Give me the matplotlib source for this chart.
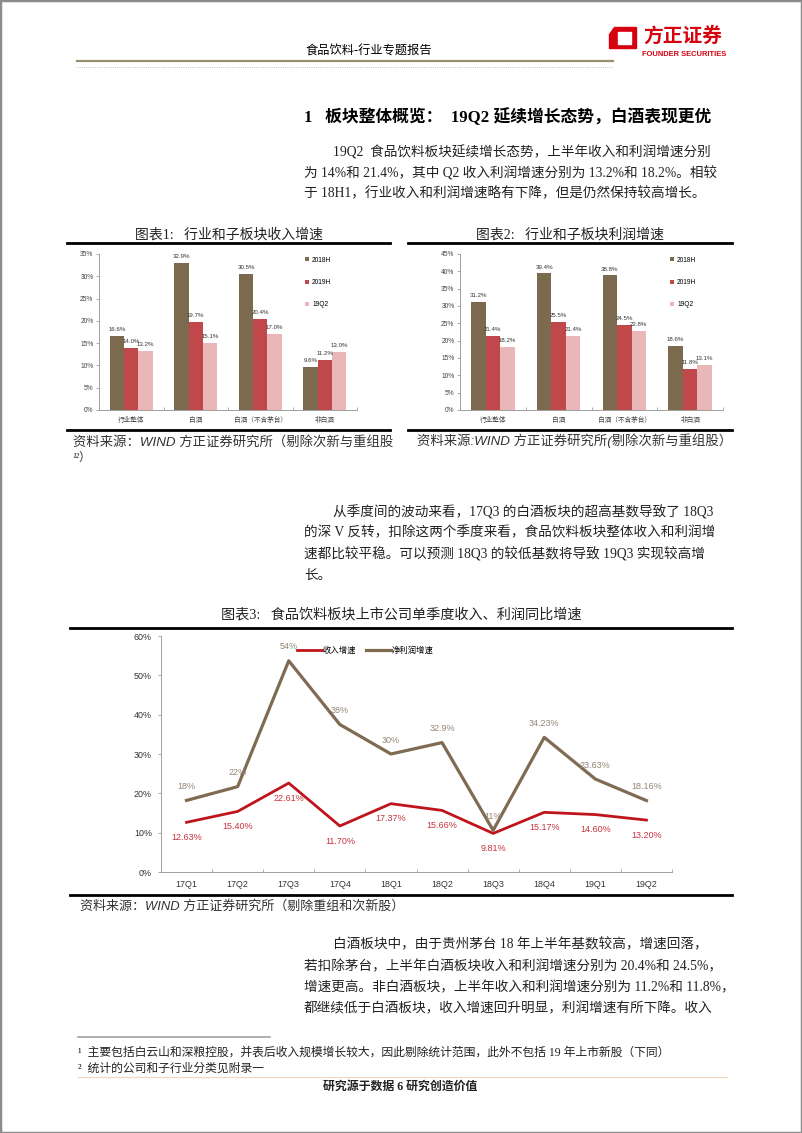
import matplotlib
matplotlib.use('Agg')
import matplotlib.pyplot as plt
from matplotlib import font_manager
from matplotlib.patches import Rectangle, Polygon
from matplotlib.lines import Line2D
import numpy as np

# 页面尺寸 (像素)
W, H = 802, 1133

# 图表1、图表2 数据
groups = ['行业整体', '白酒', '白酒（不含茅台）', '非白酒']
series = ['2018H', '2019H', '19Q2']
rev_2018h = [16.6, 32.9, 30.5, 9.6]
rev_2019h = [14.0, 19.7, 20.4, 11.2]
rev_19q2 = [13.2, 15.1, 17.0, 13.0]
prof_2018h = [31.2, 39.4, 38.8, 18.6]
prof_2019h = [21.4, 25.5, 24.5, 11.8]
prof_19q2 = [18.2, 21.4, 22.8, 13.1]

# 图表3 数据
quarters = ['17Q1', '17Q2', '17Q3', '17Q4', '18Q1', '18Q2', '18Q3', '18Q4', '19Q1', '19Q2']
rev_growth = [12.63, 15.40, 22.61, 11.70, 17.37, 15.66, 9.81, 15.17, 14.60, 13.20]
profit_growth = [18.2, 21.7, 53.7, 37.5, 30.0, 32.9, 10.6, 34.23, 23.63, 18.16]
profit_labels = ['18%', '22%', '54%', '38%', '30%', '32.9%', '11%', '34.23%', '23.63%', '18.16%']

# 字体
names = {f.name for f in font_manager.fontManager.ttflist}
NARROW = 'Liberation Sans Narrow' if 'Liberation Sans Narrow' in names else 'Liberation Sans'
CJK = 'Noto Sans CJK SC'
BODY = ['Liberation Serif', CJK]
CHART = [NARROW, CJK]
plt.rcParams['font.family'] = ['Liberation Sans', CJK]

BAR_COLORS = ['#7B6A4E', '#C0474A', '#E9B7B7']
AXIS_GRAY = '#A0A0A0'

fig = plt.figure(figsize=(W / 100, H / 100), dpi=100)


def fx(x):
    return x / W


def fy(y):
    return 1 - y / H


def hline(x0, x1, y, lw, color, ls='-'):
    fig.add_artist(Line2D([fx(x0), fx(x1)], [fy(y), fy(y)], transform=fig.transFigure,
                          lw=lw, color=color, ls=ls))


def txt(x, y, s, size, family=BODY, **kw):
    kw.setdefault('va', 'center')
    fig.text(fx(x), fy(y), s, fontsize=size, family=family, **kw)


def ax_at(x0, y0, x1, y1):
    # 像素坐标 -> axes
    return fig.add_axes([fx(x0), fy(y1), fx(x1) - fx(x0), fy(y0) - fy(y1)])


# 页面边框
fig.add_artist(Rectangle((0, 0), 1, 1, transform=fig.transFigure, fill=False,
                         edgecolor='#8C8C8C', lw=2.5))

# 页眉
txt(369, 52, '食品饮料-行业专题报告', 8.8, ha='center')
hline(77, 613, 61, 1.6, '#9A8F6E')
hline(77, 613, 67, 0.6, '#B0B0B0', ls=':')
fig.add_artist(Polygon([[fx(614), fy(27)], [fx(636), fy(27)], [fx(636), fy(48)],
                        [fx(609), fy(48)], [fx(609), fy(34)]],
                       closed=True, transform=fig.transFigure, color='#D7000F'))
fig.add_artist(Rectangle((fx(618), fy(44)), fx(13), 12 / H, transform=fig.transFigure,
                         color='white'))
txt(683, 36, '方正证券', 14.2, family=[CJK], ha='center', color='#D7000F', weight='bold')
txt(684, 54, 'FOUNDER SECURITIES', 5.4, family=['Liberation Sans'], ha='center',
    color='#D7000F', weight='bold')

# 标题与正文
txt(304, 117, '1   板块整体概览：  19Q2 延续增长态势，白酒表现更优', 12.1, weight='bold')
para1 = [(333, 152, '19Q2  食品饮料板块延续增长态势，上半年收入和利润增速分别'),
         (304, 173, '为 14%和 21.4%，其中 Q2 收入利润增速分别为 13.2%和 18.2%。相较'),
         (304, 194, '于 18H1，行业收入和利润增速略有下降，但是仍然保持较高增长。')]
para2 = [(333, 512, '从季度间的波动来看，17Q3 的白酒板块的超高基数导致了 18Q3'),
         (304, 533, '的深 V 反转，扣除这两个季度来看，食品饮料板块整体收入和利润增'),
         (304, 554, '速都比较平稳。可以预测 18Q3 的较低基数将导致 19Q3 实现较高增'),
         (304, 575, '长。')]
para3 = [(333, 945, '白酒板块中，由于贵州茅台 18 年上半年基数较高，增速回落，'),
         (304, 967, '若扣除茅台，上半年白酒板块收入和利润增速分别为 20.4%和 24.5%，'),
         (304, 988, '增速更高。非白酒板块，上半年收入和利润增速分别为 11.2%和 11.8%，'),
         (304, 1009, '都继续低于白酒板块，收入增速回升明显，利润增速有所下降。收入')]
for x, y, s in para1 + para2 + para3:
    txt(x, y, s, 9.8, color='#222222')


def bar_chart(ax, s1, s2, s3, ymax, step):
    x = np.arange(len(groups))
    w = 0.22
    for i, vals in enumerate([s1, s2, s3]):
        pos = x + (i - 1) * w
        ax.bar(pos, vals, w, color=BAR_COLORS[i], label=series[i])
        for xi, v in zip(pos, vals):
            ax.text(xi, v + ymax * 0.025, f'{v:.1f}%', ha='center', va='bottom',
                    fontsize=4.4, family=CHART, color='#333333')
    ax.set_xlim(-0.5, 3.5)
    ax.set_ylim(0, ymax)
    ticks = np.arange(0, ymax + 0.1, step)
    ax.set_yticks(ticks)
    ax.set_yticklabels([f'{int(t)}%' for t in ticks], fontsize=4.8, family=CHART)
    ax.set_xticks(x)
    ax.set_xticklabels(groups, fontsize=4.8, family=CHART)
    ax.set_xticks(np.arange(-0.5, 3.6, 1), minor=True)
    ax.tick_params(axis='x', which='major', length=0, pad=5, colors='#444444')
    ax.tick_params(axis='x', which='minor', length=2, direction='in', color=AXIS_GRAY)
    ax.tick_params(axis='y', length=2, width=0.6, color=AXIS_GRAY, pad=2, colors='#444444')
    for sp in ['top', 'right']:
        ax.spines[sp].set_visible(False)
    for sp in ['left', 'bottom']:
        ax.spines[sp].set_color(AXIS_GRAY)
        ax.spines[sp].set_linewidth(0.7)
    leg = ax.legend(loc='upper left', bbox_to_anchor=(0.79, 1.0), frameon=False,
                    fontsize=4.8, handlelength=0.6, handleheight=0.6, handletextpad=0.4,
                    labelspacing=2.3, borderaxespad=0)
    for t in leg.get_texts():
        t.set_family(CHART)


# 图表1
txt(229, 235, '图表1:   行业和子板块收入增速', 10, ha='center', color='#222222')
hline(67, 390, 243, 2.0, 'black')
ax1 = ax_at(99, 254, 357, 410)
bar_chart(ax1, rev_2018h, rev_2019h, rev_19q2, 35, 5)
hline(67, 390, 430, 2.0, 'black')
txt(73, 442, '资料来源：WIND 方正证券研究所（剔除次新与重组股', 9.6,
    family=['Liberation Sans', CJK], style='italic', color='#333333')
txt(73, 458, '¹²）', 8.5, family=['Liberation Serif', CJK], style='italic', color='#333333')

# 图表2
txt(570, 235, '图表2:   行业和子板块利润增速', 10, ha='center', color='#222222')
hline(408, 732, 243, 2.0, 'black')
ax2 = ax_at(460, 254, 723, 410)
bar_chart(ax2, prof_2018h, prof_2019h, prof_19q2, 45, 5)
hline(408, 732, 430, 2.0, 'black')
txt(417, 441, '资料来源:WIND 方正证券研究所(剔除次新与重组股）', 9.6,
    family=['Liberation Sans', CJK], style='italic', color='#333333')

# 图表3
txt(401, 615, '图表3:   食品饮料板块上市公司单季度收入、利润同比增速', 10.2, ha='center',
    color='#222222')
hline(70, 732, 628, 2.0, 'black')
ax3 = ax_at(161, 636, 672, 872)
x = np.arange(len(quarters))
ax3.plot(x, rev_growth, color='#C0141C', lw=2.0, label='收入增速')
ax3.plot(x, profit_growth, color='#7F6B52', lw=2.3, label='净利润增速')
for xi, v in zip(x, rev_growth):
    ax3.annotate(f'{v:.2f}%', (xi, v), xytext=(0, -11), textcoords='offset points',
                 ha='center', va='center', fontsize=6.5, family=CHART, color='#C8323C')
for xi, v, s in zip(x, profit_growth, profit_labels):
    ax3.annotate(s, (xi, v), xytext=(0, 10), textcoords='offset points',
                 ha='center', va='center', fontsize=6.5, family=CHART, color='#918574')
ax3.set_xlim(-0.5, 9.5)
ax3.set_ylim(0, 60)
yt = np.arange(0, 61, 10)
ax3.set_yticks(yt)
ax3.set_yticklabels([f'{int(t)}%' for t in yt], fontsize=6.4, family=CHART)
ax3.set_xticks(x)
ax3.set_xticklabels(quarters, fontsize=6.4, family=CHART)
ax3.set_xticks(np.arange(-0.5, 9.6, 1), minor=True)
ax3.tick_params(axis='x', which='major', length=0, pad=6, colors='#333333')
ax3.tick_params(axis='x', which='minor', length=2.5, direction='in', color=AXIS_GRAY)
ax3.tick_params(axis='y', length=2.5, width=0.6, color=AXIS_GRAY, pad=4, colors='#333333')
for sp in ['top', 'right']:
    ax3.spines[sp].set_visible(False)
for sp in ['left', 'bottom']:
    ax3.spines[sp].set_color(AXIS_GRAY)
    ax3.spines[sp].set_linewidth(0.7)
leg3 = ax3.legend(loc='center', bbox_to_anchor=(0.40, 0.94), ncol=2, frameon=False,
                  fontsize=6.0, handlelength=3.0, handletextpad=0.1, columnspacing=1.2)
for t in leg3.get_texts():
    t.set_family(CHART)
hline(70, 732, 895, 2.0, 'black')
txt(80, 906, '资料来源：WIND 方正证券研究所（剔除重组和次新股）', 9.4,
    family=['Liberation Sans', CJK], style='italic', color='#333333')

# 脚注
hline(78, 270, 1037, 1.2, '#A0A0A0')
txt(78, 1053, '¹  主要包括白云山和深粮控股，并表后收入规模增长较大，因此剔除统计范围，此外不包括 19 年上市新股（下同）',
    8.5, color='#222222')
txt(78, 1069, '²  统计的公司和子行业分类见附录一', 8.5, color='#222222')
hline(78, 727, 1077, 0.8, '#F0D8C0')
txt(400, 1087, '研究源于数据 6 研究创造价值', 8.6, ha='center', weight='bold', color='#222222')

fig.savefig('out.png', dpi=100)
